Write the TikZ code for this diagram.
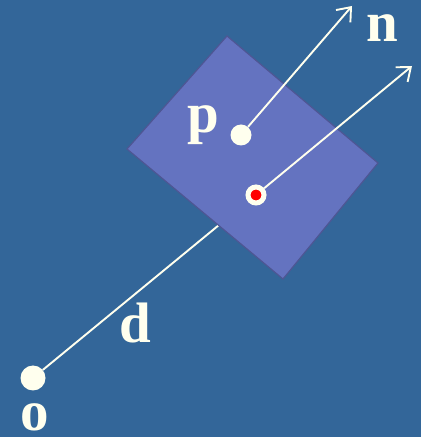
\documentclass[tikz,border=0pt]{standalone}
\usepackage{fontspec}
\setmainfont{Liberation Serif}
\usetikzlibrary{arrows.meta,positioning,calc}
\definecolor{SceneBlue}{RGB}{51,102,153}
\definecolor{PlaneFill}{RGB}{100,115,192}
\definecolor{PlaneEdge}{RGB}{78,86,148}
\definecolor{Ivory}{RGB}{255,255,238}
\tikzset{dot/.style={circle,fill=Ivory,inner sep=0pt,minimum size=21pt},
  ray/.style={Ivory,line width=1.9pt},
  arr/.style={-{Straight Barb[length=12pt,width=19pt,line width=1.9pt]},Ivory,line width=1.9pt},
  lab/.style={text=Ivory,font=\fontsize{57}{60}\selectfont\bfseries,inner sep=0pt}}

\begin{document}
\begin{tikzpicture}[x=1pt,y=1pt]

% background
\fill[SceneBlue] (0,0) rectangle (421,437);
\useasboundingbox (0,0) rectangle (421,437);

% ray from origin
\node[dot, minimum size=25pt] (o) at (33,59) {};
\coordinate (hit) at (219,212);
\draw[ray] (o) -- (hit);

% the plane
\coordinate (top) at (227,401);
\coordinate (left) at (127,288);
\coordinate (bottom) at (283,158);
\coordinate (right) at (378,274);
\draw[PlaneEdge, fill=PlaneFill, line width=1.2pt] (top) -- (right) -- (bottom) -- (left) -- cycle;

% points on the plane
\node[dot] (p) at (241,302) {};
\node[dot, fill=red, draw=Ivory, line width=5pt, minimum size=16pt] (x) at (256,242) {};

% normals
\coordinate (ntip) at (352,431);
\coordinate (xtip) at (412,371);
\draw[arr] (p) -- (ntip);
\draw[arr] (x) -- (xtip);

% labels
\node[lab] (plab) at (203,312) {p};
\node[lab] (nlab) at (382,409) {n};
\node[lab] (dlab) at (135,114) {d};
\node[lab] (olab) at (35,20) {o};
\end{tikzpicture}
\end{document}
